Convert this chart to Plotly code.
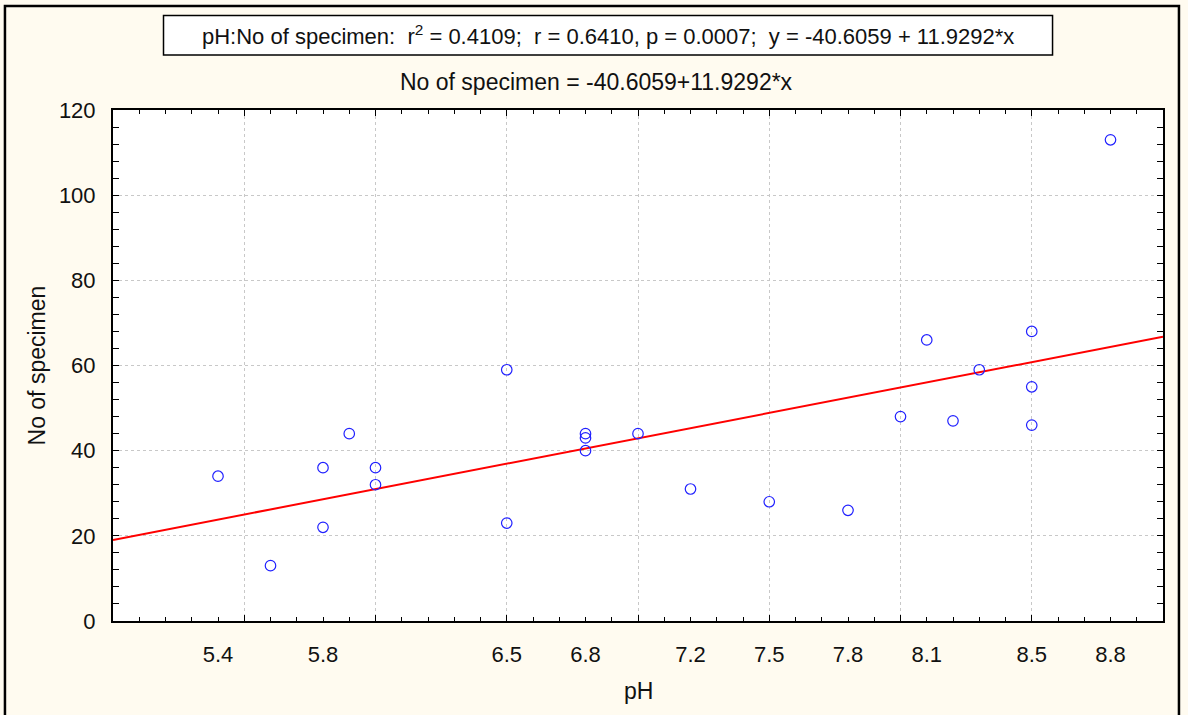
import plotly.graph_objects as go

# ---- data ----
ph = [5.4, 5.6, 5.8, 5.8, 5.9, 6.0, 6.0, 6.5, 6.5, 6.8, 6.8, 6.8,
      7.0, 7.2, 7.5, 7.8, 8.0, 8.1, 8.2, 8.3, 8.5, 8.5, 8.5, 8.8]
specimens = [34, 13, 36, 22, 44, 36, 32, 59, 23, 44, 43, 40,
             44, 31, 28, 26, 48, 66, 47, 59, 68, 55, 46, 113]
x_tick_labels = [5.4, 5.8, 6.5, 6.8, 7.2, 7.5, 7.8, 8.1, 8.5, 8.8]
y_tick_values = [0, 20, 40, 60, 80, 100, 120]
intercept = -40.6059
slope = 11.9292
r_squared = 0.4109
r_value = 0.6410
p_value = 0.0007
x_range = [5.0, 9.0]
y_range = [0, 120]

FONT = "Liberation Sans, Arial, sans-serif"
NB = "\u00a0"
TXT = "#111111"

fit_x = x_range
fit_y = [intercept + slope * v for v in fit_x]

fig = go.Figure()
fig.add_trace(go.Scatter(
    x=fit_x, y=fit_y, mode="lines",
    line=dict(color="#FF0000", width=2), hoverinfo="skip", showlegend=False))
fig.add_trace(go.Scatter(
    x=ph, y=specimens, mode="markers",
    marker=dict(symbol="circle-open", size=10.5, color="#2020FF",
                line=dict(width=1.2, color="#2020FF")),
    showlegend=False))
# helper trace so the grid/tick axis is drawn
fig.add_trace(go.Scatter(
    x=[x_range[0]], y=[y_range[0]], xaxis="x2", yaxis="y", mode="markers",
    marker=dict(opacity=0), hoverinfo="skip", showlegend=False))

title_text = (f"pH:No of specimen:{NB}{NB}r<sup>2</sup> = {r_squared:.4f};{NB}{NB}"
              f"r = {r_value:.4f}, p = {p_value:.4f};{NB}{NB}"
              f"y = {intercept:.4f} + {slope:.4f}*x")
sub_text = f"No of specimen = {intercept:.4f}+{slope:.4f}*x"

fig.update_layout(
    width=1188, height=715, autosize=False,
    margin=dict(l=113, r=25, t=110, b=94),
    paper_bgcolor="#FFFBF0", plot_bgcolor="#FFFFFF",
    font=dict(family=FONT, size=22, color=TXT),
    xaxis=dict(range=x_range, tickvals=x_tick_labels,
               ticktext=[f"{v:.1f}" for v in x_tick_labels],
               ticks="", showgrid=False, zeroline=False,
               showline=True, linecolor="black", linewidth=2, mirror=True,
               ticklabelstandoff=13, tickfont=dict(size=22, color=TXT)),
    xaxis2=dict(overlaying="x", anchor="y", side="bottom", range=x_range,
                tick0=5.0, dtick=0.5, ticks="inside", ticklen=6,
                tickcolor="black", tickwidth=1, showticklabels=False,
                showgrid=True, gridcolor="#C8C8C8", griddash="dot", gridwidth=1,
                minor=dict(tick0=5.0, dtick=0.1, ticks="inside", ticklen=4,
                           tickcolor="black", showgrid=False),
                zeroline=False, showline=True, linecolor="black", linewidth=2,
                mirror="allticks"),
    yaxis=dict(range=y_range, tickvals=y_tick_values, ticks="inside",
               ticklen=6, tickcolor="black", showgrid=True,
               gridcolor="#C8C8C8", griddash="dot", gridwidth=1,
               minor=dict(dtick=4, ticks="inside", ticklen=4,
                          tickcolor="black", showgrid=False),
               zeroline=False, showline=True, linecolor="black", linewidth=2,
               mirror="allticks", ticklabelstandoff=11,
               tickfont=dict(size=22, color=TXT)),
    shapes=[
        # outer frame of the graph window
        dict(type="rect", xref="paper", yref="paper",
             x0=-0.1029, x1=1.0152, y0=-0.1937, y1=1.2035,
             line=dict(color="black", width=2.5), fillcolor="rgba(0,0,0,0)",
             layer="above"),
        # box around the statistics title
        dict(type="rect", xref="paper", yref="paper",
             x0=0.0481, x1=0.8948, y0=1.1076, y1=1.1849,
             line=dict(color="black", width=1.5), fillcolor="#FFFFFF",
             layer="below"),
    ],
    annotations=[
        dict(text=title_text, xref="paper", yref="paper", x=0.4714, y=1.1468,
             xanchor="center", yanchor="middle", showarrow=False,
             font=dict(size=22, family=FONT, color=TXT)),
        dict(text=sub_text, xref="paper", yref="paper", x=0.46, y=1.0548,
             xanchor="center", yanchor="middle", showarrow=False,
             font=dict(size=23, family=FONT, color=TXT)),
        dict(text="No of specimen", xref="paper", yref="paper",
             x=-0.0724, y=0.5, xanchor="center", yanchor="middle",
             textangle=-90, showarrow=False,
             font=dict(size=23, family=FONT, color=TXT)),
        dict(text="pH", xref="paper", yref="paper", x=0.5, y=-0.137,
             xanchor="center", yanchor="middle", showarrow=False,
             font=dict(size=23, family=FONT, color=TXT)),
    ],
)

fig.write_html("out.html")
